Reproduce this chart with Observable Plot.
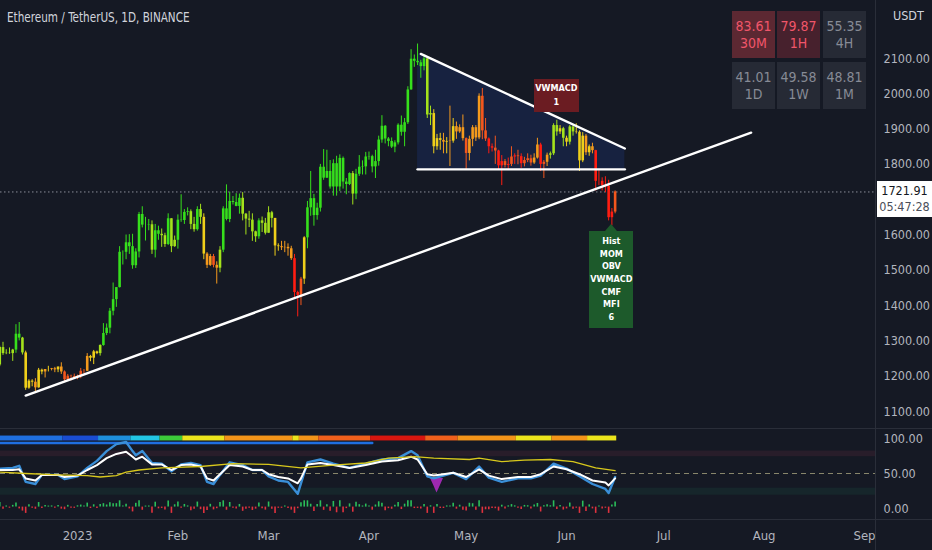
<!DOCTYPE html>
<html>
<head>
<meta charset="utf-8">
<script src="https://cdn.jsdelivr.net/npm/d3@7"></script>
<script src="https://cdn.jsdelivr.net/npm/@observablehq/plot@0.6"></script>
<style>
  html, body { margin:0; padding:0; background:#151924; }
  #root { position:relative; width:932px; height:550px; overflow:hidden; background:#151924;
    font-family:"Liberation Sans Narrow","Arial Narrow","DejaVu Sans Condensed","Roboto",sans-serif; color:#d1d4dc; }
  #root svg { position:absolute; left:0; }
  .sep { position:absolute; background:#2a2e39; }
  .title { position:absolute; left:7px; top:9px; font-size:13.5px; color:#d1d4dc; white-space:nowrap; transform:scaleX(0.86); transform-origin:0 50%; }
  .unit { position:absolute; left:893px; top:8px; font-size:12.5px; color:#d1d4dc; }
  .cell { position:absolute; width:43px; height:47px; display:flex; flex-direction:column; align-items:center; justify-content:center; font-size:14px; line-height:17px; }
  .pricebox { position:absolute; left:877px; width:55px; height:36px; background:#fff; color:#131722; font-size:12.5px; line-height:16px; text-align:center; padding-top:2px; box-sizing:border-box; }
  .lbl { position:absolute; color:#fff; font-weight:bold; font-size:9px; text-align:center; line-height:13px; }
</style>
</head>
<body>
<div id="root"></div>
<script>
// ---------------- DATA ----------------
const title = "Ethereum / TetherUS, 1D, BINANCE";
const unitLabel = "USDT";
const startDate = "2022-12-08";   // first daily candle
const firstOpen = 1232;
const close = [
 1281,1264,1265,1264,1274,1319,1308,1266,1166,1186,1183,1167,1217,1212,1219,1219,1221,1218,1226,1212,1190,1200,1199,1196,
 1200,1214,1214,1256,1251,1269,1264,1287,1321,1336,1384,1417,1451,1551,1551,1578,1567,1513,1552,1658,1628,1628,1629,1557,1612,1602,1598,1573,1646,1567,1585,
 1642,1641,1664,1666,1630,1615,1672,1650,1546,1514,1539,1514,1506,1557,1674,1644,1695,1692,1681,1704,1659,1645,1642,1609,1595,1640,1633,1605,
 1663,1647,1569,1567,1564,1565,1561,1533,1437,1429,1475,1592,1677,1703,1655,1676,1792,1761,1780,1736,1802,1736,1817,1750,1743,1774,1716,1772,1792,1793,1821,
 1822,1793,1808,1869,1908,1872,1865,1849,1861,1911,1891,1918,2011,2098,2092,2088,2077,2099,1940,1944,1850,1873,1868,1863,1865,1866,1907,1892,1904,1873,
 1831,1871,1904,1875,1993,1895,1872,1850,1846,1838,1796,1808,1797,1800,1821,1824,1822,1802,1811,1816,1804,1818,1855,1800,1806,1826,1830,1910,1892,1901,1874,
 1863,1906,1892,1891,1810,1880,1833,1850,1839,1752,1752,1740,1738,1649,1665,1721.91
];
const high = [
 1285,1296,1275,1280,1276,1346,1352,1310,1271,1190,1190,1193,1222,1220,1219,1228,1222,1225,1226,1238,1215,1205,1203,1206,
 1203,1222,1219,1264,1259,1273,1271,1289,1349,1348,1392,1464,1451,1567,1555,1600,1601,1602,1561,1664,1680,1650,1644,1640,1630,1625,1617,1605,1660,1646,1597,
 1657,1714,1672,1677,1671,1650,1680,1687,1660,1550,1545,1545,1524,1567,1680,1742,1721,1709,1717,1716,1720,1661,1667,1660,1611,1646,1651,1647,
 1680,1667,1647,1575,1582,1582,1575,1568,1545,1441,1480,1595,1695,1780,1715,1690,1800,1842,1840,1811,1813,1823,1827,1821,1760,1776,1780,1786,1825,1810,1834,
 1835,1826,1840,1880,1938,1910,1876,1875,1867,1915,1937,1930,2020,2125,2110,2141,2095,2110,2100,1965,1955,1885,1888,1888,1876,1965,1930,1920,1912,1940,
 1875,1880,1910,1910,2000,2015,1930,1875,1858,1880,1840,1825,1814,1818,1850,1830,1840,1830,1820,1830,1826,1830,1874,1860,1811,1832,1835,1915,1925,1910,1905,
 1880,1910,1910,1915,1895,1890,1885,1855,1860,1840,1782,1762,1765,1755,1675,1725
];
const low = [
 1227,1259,1261,1262,1242,1265,1300,1260,1160,1163,1170,1153,1166,1204,1195,1212,1215,1210,1210,1205,1185,1186,1187,1192,
 1190,1193,1207,1213,1241,1233,1261,1257,1285,1315,1320,1371,1395,1450,1515,1530,1545,1503,1505,1535,1620,1583,1612,1545,1535,1585,1565,1565,1570,1550,1565,
 1560,1636,1630,1654,1615,1608,1611,1630,1530,1505,1511,1507,1461,1493,1550,1640,1635,1685,1680,1659,1640,1600,1621,1582,1579,1588,1607,1600,
 1605,1620,1540,1554,1556,1550,1540,1528,1419,1368,1400,1460,1561,1653,1625,1642,1665,1755,1760,1730,1710,1710,1723,1730,1714,1740,1685,1700,1766,1770,1770,
 1812,1776,1760,1795,1860,1858,1850,1845,1833,1855,1880,1850,1913,2010,2075,2080,2044,2065,1930,1910,1830,1840,1840,1830,1830,1794,1860,1871,1888,1866,
 1785,1810,1850,1865,1870,1870,1865,1830,1835,1800,1785,1740,1790,1785,1794,1800,1799,1789,1793,1805,1795,1800,1815,1780,1760,1794,1815,1825,1880,1885,1850,
 1850,1855,1880,1886,1780,1805,1825,1823,1830,1725,1740,1725,1720,1640,1626,1660
];
// momentum state of each candle (0 = weakest/red ... 5 = strongest/green)
const heat = [
 4,4,4,4,4,5,5,4,3,3,3,2,3,3,2,3,2,2,3,2,1,1,1,1,
 1,1,1,2,3,3,3,4,5,5,5,5,5,5,5,5,5,5,5,5,5,5,5,4,5,5,4,4,5,4,4,
 5,5,5,5,4,4,5,4,3,2,2,1,2,4,5,5,5,5,5,5,4,4,4,4,4,5,4,4,
 4,4,3,3,2,2,2,2,0,0,1,3,5,5,5,5,5,5,5,5,5,5,5,5,5,5,4,5,5,5,5,
 5,5,5,5,5,5,5,5,5,5,5,5,5,5,5,5,5,5,4,4,3,3,3,2,3,2,3,2,2,2,
 1,2,2,2,2,1,1,0,0,1,0,0,1,0,1,0,1,0,1,1,1,2,2,0,1,2,4,4,4,3,4,
 3,4,4,3,3,3,2,3,2,0,0,0,0,0,0,1
];
const priceTicks = [2100,2000,1900,1800,1600,1500,1400,1300,1200,1100];
const xTickDates = ["2023-01-01","2023-02-01","2023-03-01","2023-04-01","2023-05-01","2023-06-01","2023-07-01","2023-08-01","2023-09-01"];
const xTickLabels = ["2023","Feb","Mar","Apr","May","Jun","Jul","Aug","Sep"];

// drawn trend lines (date, price)
const ascLineDates = ["2022-12-16","2023-07-28"];
const ascLinePrices = [1145, 1890];
const descLineDates = ["2023-04-17","2023-06-19"];
const descLinePrices = [2113, 1845];
const baseLineDates = ["2023-04-16","2023-06-19"];
const baseLinePrice = 1786;
const wedgeDates = ["2023-04-16","2023-04-17","2023-06-19"];
const wedgeTop = [2113, 2113, 1845];

// signal labels
const labelDates = ["2023-05-29","2023-06-15"];
const labelPrices = [1947, 1630];
const labelTexts = [["VWMACD","1"],["Hist","MOM","OBV","VWMACD","CMF","MFI","6"]];

// multi-timeframe table
const tfLabels = ["30M","1H","4H","1D","1W","1M"];
const tfValues = [83.61,79.87,55.35,41.01,49.58,48.81];
const countdown = "05:47:28";

// oscillator pane
const oscTicks = [100, 50, 0];
const oscDates = ["2022-12-08","2022-12-12","2022-12-14","2022-12-16","2022-12-19","2022-12-21","2022-12-26","2022-12-28",
 "2023-01-01","2023-01-04","2023-01-07","2023-01-10","2023-01-13","2023-01-16","2023-01-18","2023-01-19","2023-01-21","2023-01-24","2023-01-27","2023-01-30",
 "2023-02-02","2023-02-05","2023-02-08","2023-02-10","2023-02-12","2023-02-14","2023-02-17","2023-02-21","2023-02-24","2023-02-27",
 "2023-03-01","2023-03-04","2023-03-07","2023-03-10","2023-03-11","2023-03-13","2023-03-17","2023-03-21","2023-03-26","2023-03-31",
 "2023-04-05","2023-04-10","2023-04-14","2023-04-16","2023-04-19","2023-04-21","2023-04-24","2023-04-27",
 "2023-05-01","2023-05-05","2023-05-08","2023-05-12","2023-05-17","2023-05-21","2023-05-24","2023-05-28",
 "2023-06-01","2023-06-05","2023-06-09","2023-06-13","2023-06-14","2023-06-16"];
const whiteVals = [55,55,56,43,40,48,48,45, 47,55,62,72,78,81,74,70,74,63,63,55, 62,63,60,43,40,49,62,60,55,55,
 49,45,43,36,43,63,65,62,58,62, 67,69,74,70,49,47,49,51, 45,56,47,42,45,45,49,60, 56,49,40,37,33,43];
const blueVals = [57,58,61,38,35,48,48,42, 46,58,68,82,92,95,82,76,82,65,64,53, 63,65,62,38,35,48,66,62,55,55,
 46,40,38,21,36,66,70,64,58,64, 70,72,82,76,46,43,47,51, 42,60,44,38,43,43,47,64, 57,46,35,28,22,45];
const yellowDates = ["2022-12-08","2022-12-16","2022-12-26","2023-01-04","2023-01-08","2023-01-13","2023-01-16","2023-01-20","2023-01-27",
 "2023-02-08","2023-02-18","2023-03-01","2023-03-11","2023-03-21","2023-03-31","2023-04-07","2023-04-15","2023-04-21",
 "2023-05-02","2023-05-05","2023-05-12","2023-05-19","2023-05-27","2023-06-03","2023-06-10","2023-06-16"];
const yellowVals = [52,50,48,47,45,47,52,55,58, 60,64,63,58,62,65,72,74,72, 70,72,67,69,70,67,58,54];
const purpleDates = ["2023-04-20","2023-04-21","2023-04-22","2023-04-23","2023-04-24"];
const purpleLow = [43,33,22,32,43];
const purpleTop = 43;
// trend ribbon: segment start dates and state (0 red ... 5 green, 6 cyan, 7 azure, 8 blue, 9 deep blue)
const ribbonStarts = ["2022-12-08","2022-12-28","2023-01-08","2023-01-18","2023-01-27","2023-02-03","2023-02-16","2023-03-09","2023-03-11",
 "2023-03-17","2023-04-02","2023-04-19","2023-04-29","2023-05-17","2023-05-28","2023-06-08"];
const ribbonStates = [8,9,7,6,5,3,2,3,2,1,0,1,2,3,2,3];
const ribbonEnd = "2023-06-17";
const trendLineDates = ["2022-12-08","2023-04-02"];

// ---------------- BUILD ----------------
const parse = d3.utcParse("%Y-%m-%d");
const day0 = parse(startDate);
const candles = close.map((c, i) => ({
  date: d3.utcDay.offset(day0, i),
  open: i ? close[i - 1] : firstOpen,
  high: high[i], low: low[i], close: c, heat: heat[i]
}));
const lastClose = close[close.length - 1];

const FONT = '"Liberation Sans Narrow","Arial Narrow","DejaVu Sans Condensed",Roboto,sans-serif';
const xDomain = [parse("2023-01-01"), parse("2023-09-01")];
const xRange = [77, 864];
const candleColors = ["#ff1d12","#f4571d","#f59a1c","#efcf1a","#a4e21b","#36df1c"];

const main = Plot.plot({
  width: 932, height: 428,
  marginLeft: 0, marginRight: 57, marginTop: 0, marginBottom: 0,
  style: {background: "transparent", fontFamily: FONT, fontSize: "12.5px", color: "#b2b5be"},
  x: {type: "utc", domain: xDomain, range: xRange, axis: null},
  y: {domain: [1100, 2100], range: [411, 58]},
  color: {type: "ordinal", domain: d3.range(6), range: candleColors},
  marks: [
    Plot.axisY(priceTicks, {anchor: "right", tickSize: 0, tickPadding: 8, tickFormat: d => d.toFixed(2), fill: "#b2b5be", fontSize: 12.5, label: null}),
    Plot.areaY(wedgeDates.map((d, i) => ({date: parse(d), top: wedgeTop[i], base: baseLinePrice})),
      {x: "date", y1: "base", y2: "top", fill: "#2962ff", fillOpacity: 0.13}),
    Plot.ruleY([lastClose], {stroke: "#8a8e99", strokeDasharray: "1.5,2.5", strokeWidth: 1}),
    Plot.ruleX(candles, {x: "date", y1: "low", y2: "high", stroke: "heat", strokeWidth: 1}),
    Plot.ruleX(candles, {x: "date", y1: "open", y2: "close", stroke: "heat", strokeWidth: 2.6}),
    Plot.line(ascLineDates.map((d, i) => ({date: parse(d), p: ascLinePrices[i]})), {x: "date", y: "p", stroke: "#ffffff", strokeWidth: 2.4}),
    Plot.line(descLineDates.map((d, i) => ({date: parse(d), p: descLinePrices[i]})), {x: "date", y: "p", stroke: "#ffffff", strokeWidth: 2.4}),
    Plot.line(baseLineDates.map(d => ({date: parse(d), p: baseLinePrice})), {x: "date", y: "p", stroke: "#ffffff", strokeWidth: 2.4})
  ]
});
main.style.top = "0px";

const ribbon = ribbonStarts.map((d, i) => ({
  x1: d3.utcHour.offset(parse(d), -12),
  x2: d3.utcHour.offset(parse(i + 1 < ribbonStarts.length ? ribbonStarts[i + 1] : ribbonEnd), -12),
  s: ribbonStates[i]
}));
const ribbonColors = ["#d8160f","#f0601c","#f39419","#ebe41c","#a4e21b","#3ccb3a","#22c6e4","#1e8fdc","#1f6fe0","#1a4dd2"];
const oscWhite = oscDates.map((d, i) => ({date: parse(d), v: whiteVals[i]}));
const oscBlue = oscDates.map((d, i) => ({date: parse(d), v: blueVals[i]}));
const oscYellow = yellowDates.map((d, i) => ({date: parse(d), v: yellowVals[i]}));
const purple = purpleDates.map((d, i) => ({date: parse(d), lo: purpleLow[i], hi: purpleTop}));

const lower = Plot.plot({
  width: 932, height: 122,
  marginLeft: 0, marginRight: 57, marginTop: 0, marginBottom: 31,
  style: {background: "transparent", fontFamily: FONT, fontSize: "12.5px", color: "#b2b5be"},
  x: {type: "utc", domain: xDomain, range: xRange},
  y: {domain: [0, 100], range: [80, 10]},
  color: {type: "ordinal", domain: d3.range(10), range: ribbonColors},
  marks: [
    Plot.rect([{a: 74, b: 82}], {y1: "a", y2: "b", fill: "#7a2c44", fillOpacity: 0.2}),
    Plot.rect([{a: 19, b: 29}], {y1: "a", y2: "b", fill: "#1f6b55", fillOpacity: 0.17}),
    Plot.ruleY([50], {stroke: "#b9b58a", strokeOpacity: 0.7, strokeDasharray: "5,4", strokeWidth: 1}),
    Plot.axisY(oscTicks, {anchor: "right", tickSize: 0, tickPadding: 8, tickFormat: d => d.toFixed(2), fill: "#b2b5be", fontSize: 12.5, label: null}),
    Plot.axisX(xTickDates.map(parse), {tickSize: 0, tickPadding: 11, tickFormat: d => xTickLabels[d.getUTCMonth()], fill: "#b2b5be", fontSize: 13, label: null}),
    Plot.rect(ribbon, {x1: "x1", x2: "x2", y1: 96.5, y2: 103.5, fill: "s"}),
    Plot.line(trendLineDates.map(d => ({date: parse(d), v: 93.5})), {x: "date", y: "v", stroke: "#1f6fe0", strokeWidth: 2.5}),
    Plot.areaY(purple, {x: "date", y1: "lo", y2: "hi", fill: "#b62bc9", fillOpacity: 0.85}),
    Plot.line(oscBlue, {x: "date", y: "v", stroke: "#3a8fd8", strokeWidth: 2.4}),
    Plot.line(oscWhite, {x: "date", y: "v", stroke: "#ffffff", strokeWidth: 2}),
    Plot.line(oscYellow, {x: "date", y: "v", stroke: "#d8c81c", strokeWidth: 1.3}),
    Plot.ruleX(candles.filter(d => d.close >= d.open), {x: "date", y1: 2, y2: d => 2 + Math.min(9, Math.abs(d.close - d.open) / 10 + 1.5), stroke: "#2bbf5a", strokeWidth: 1.6}),
    Plot.ruleX(candles.filter(d => d.close < d.open), {x: "date", y1: 2, y2: d => 2 - Math.min(9, Math.abs(d.close - d.open) / 10 + 1.5), stroke: "#e0323e", strokeWidth: 1.6})
  ]
});
lower.style.top = "428px";

const root = document.getElementById("root");
root.appendChild(main);
root.appendChild(lower);

function el(cls, css, html) {
  const e = document.createElement("div");
  e.className = cls;
  Object.assign(e.style, css);
  if (html != null) e.innerHTML = html;
  root.appendChild(e);
  return e;
}
// pane separators
el("sep", {left: "0px", top: "428px", width: "932px", height: "1px"});
el("sep", {left: "0px", top: "519px", width: "932px", height: "1px"});
el("sep", {left: "875px", top: "0px", width: "1px", height: "550px"});

el("title", {}, title);
el("unit", {}, unitLabel);

// timeframe table
const colX = [732, 777, 823], rowY = [11, 62];
tfValues.forEach((v, i) => {
  const hot = v >= 75;
  const bg = v >= 80 ? "#5c2832" : hot ? "#47212d" : "#262a35";
  el("cell", {left: colX[i % 3] + "px", top: rowY[Math.floor(i / 3)] + "px", background: bg, color: hot ? "#f0566a" : "#878b95"},
     `<div>${v.toFixed(2)}</div><div>${tfLabels[i]}</div>`);
});

// current price box
const ys = main.scale("y"), xs = main.scale("x");
const py = ys.apply(lastClose);
el("pricebox", {top: (py - 10) + "px"}, `<div>${lastClose.toFixed(2)}</div><div style="color:#4a4e59">${countdown}</div>`);

// signal labels
{
  const x0 = xs.apply(parse(labelDates[0])), y0 = ys.apply(labelPrices[0]);
  el("lbl", {left: (x0 - 22.5) + "px", top: (y0 - 33) + "px", width: "45px", height: "33px", background: "#6b1c22",
             paddingTop: "2px", boxSizing: "border-box", lineHeight: "14px"}, labelTexts[0].join("<br>"));
  const x1 = xs.apply(parse(labelDates[1])), y1 = ys.apply(labelPrices[1]);
  el("lbl", {left: (x1 - 6) + "px", top: y1 + "px", width: "0px", height: "0px",
             borderLeft: "6px solid transparent", borderRight: "6px solid transparent", borderBottom: "7px solid #1d5a2b"});
  el("lbl", {left: (x1 - 22) + "px", top: (y1 + 7) + "px", width: "44px", height: "97px", background: "#1d5a2b",
             paddingTop: "4px", boxSizing: "border-box", lineHeight: "12.7px"}, labelTexts[1].join("<br>"));
}
</script>
</body>
</html>
